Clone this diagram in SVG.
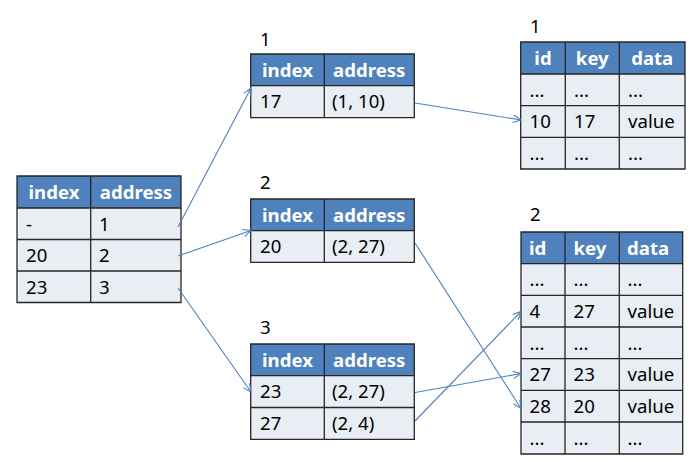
<svg xmlns="http://www.w3.org/2000/svg" width="693" height="462" viewBox="0 0 693 462">
<style>
.hd{fill:#4F81BD}
.rw{fill:#E9EDF4}
.ln{stroke:#262626;stroke-width:1.3;fill:none}
text{font-family:"Noto Sans","DejaVu Sans",sans-serif;font-size:18.6px;fill:#000}
.ht{fill:#fff;font-weight:bold}
.c{text-anchor:middle}
.lbl{font-size:18.6px}
.cn{stroke:#4F81BD;stroke-width:1.1;fill:none;marker-end:url(#ah)}
</style>
<defs>
<marker id="ah" viewBox="0 0 10 10" refX="9" refY="5" markerWidth="10" markerHeight="10" markerUnits="userSpaceOnUse" orient="auto">
<path d="M1,1.2 L9,5 L1,8.8" fill="none" stroke="#4F81BD" stroke-width="1.1"/>
</marker>
</defs>

<g id="root-index">
<rect class="hd" x="17" y="176" width="164" height="32"/>
<rect class="rw" x="17" y="208" width="164" height="94.5"/>
<path class="ln" d="M17,176H181V302.5H17Z M17,208H181 M17,239.5H181 M17,271H181 M90.7,176V302.5"/>
<text class="ht c" x="54" y="198.5">index</text>
<text class="ht c" x="136" y="198.5">address</text>
<text x="26" y="230.5">-</text><text x="99" y="230.5">1</text>
<text x="26" y="262">20</text><text x="99" y="262">2</text>
<text x="26" y="293.5">23</text><text x="99" y="293.5">3</text>
</g>

<g id="index-1">
<text class="lbl" x="260" y="46">1</text>
<rect class="hd" x="250.7" y="54" width="163.6" height="31.7"/>
<rect class="rw" x="250.7" y="85.7" width="163.6" height="32"/>
<path class="ln" d="M250.7,54H414.3V117.7H250.7Z M250.7,85.7H414.3 M324.3,54V117.7"/>
<text class="ht c" x="287.5" y="76.5">index</text>
<text class="ht c" x="369.3" y="76.5">address</text>
<text x="260" y="108">17</text><text x="332" y="108">(1, 10)</text>
</g>

<g id="index-2">
<text class="lbl" x="260" y="189">2</text>
<rect class="hd" x="250.7" y="199" width="163.6" height="31.7"/>
<rect class="rw" x="250.7" y="230.7" width="163.6" height="31.7"/>
<path class="ln" d="M250.7,199H414.3V262.4H250.7Z M250.7,230.7H414.3 M324.3,199V262.4"/>
<text class="ht c" x="287.5" y="221.5">index</text>
<text class="ht c" x="369.3" y="221.5">address</text>
<text x="260" y="253">20</text><text x="332" y="253">(2, 27)</text>
</g>

<g id="index-3">
<text class="lbl" x="260" y="334">3</text>
<rect class="hd" x="250.7" y="344" width="163.6" height="31.7"/>
<rect class="rw" x="250.7" y="375.7" width="163.6" height="63.6"/>
<path class="ln" d="M250.7,344H414.3V439.3H250.7Z M250.7,375.7H414.3 M250.7,407.5H414.3 M324.3,344V439.3"/>
<text class="ht c" x="287.5" y="366.5">index</text>
<text class="ht c" x="369.3" y="366.5">address</text>
<text x="260" y="398">23</text><text x="332" y="398">(2, 27)</text>
<text x="260" y="430">27</text><text x="332" y="430">(2, 4)</text>
</g>

<g id="data-1">
<text class="lbl" x="530" y="33">1</text>
<rect class="hd" x="520.7" y="42" width="164.3" height="32"/>
<rect class="rw" x="520.7" y="74" width="164.3" height="95"/>
<path class="ln" d="M520.7,42H685V169H520.7Z M520.7,74H685 M520.7,105.7H685 M520.7,137.3H685 M565.3,42V169 M619.3,42V169"/>
<text class="ht c" x="543" y="64.5">id</text>
<text class="ht c" x="592.3" y="64.5">key</text>
<text class="ht c" x="652.2" y="64.5">data</text>
<text x="529.5" y="96.5">...</text><text x="574" y="96.5">...</text><text x="628" y="96.5">...</text>
<text x="529.5" y="128">10</text><text x="574" y="128">17</text><text x="628" y="128">value</text>
<text x="529.5" y="159.5">...</text><text x="574" y="159.5">...</text><text x="628" y="159.5">...</text>
</g>

<g id="data-2">
<text class="lbl" x="530" y="221">2</text>
<rect class="hd" x="521" y="232" width="161.7" height="31.7"/>
<rect class="rw" x="521" y="263.7" width="161.7" height="190.3"/>
<path class="ln" d="M521,232H682.7V454H521Z M521,263.7H682.7 M521,295.3H682.7 M521,327H682.7 M521,358.7H682.7 M521,390.3H682.7 M521,422H682.7 M565,232V454 M619.3,232V454"/>
<text class="ht" x="529" y="254.5">id</text>
<text class="ht" x="573.5" y="254.5">key</text>
<text class="ht" x="627" y="254.5">data</text>
<text x="529.5" y="286">...</text><text x="573.5" y="286">...</text><text x="627.5" y="286">...</text>
<text x="529.5" y="317.5">4</text><text x="573.5" y="317.5">27</text><text x="627.5" y="317.5">value</text>
<text x="529.5" y="349.5">...</text><text x="573.5" y="349.5">...</text><text x="627.5" y="349.5">...</text>
<text x="529.5" y="381">27</text><text x="573.5" y="381">23</text><text x="627.5" y="381">value</text>
<text x="529.5" y="412.5">28</text><text x="573.5" y="412.5">20</text><text x="627.5" y="412.5">value</text>
<text x="529.5" y="444.5">...</text><text x="573.5" y="444.5">...</text><text x="627.5" y="444.5">...</text>
</g>

<g id="connectors">
<line class="cn" x1="178" y1="227" x2="251" y2="88"/>
<line class="cn" x1="178" y1="256" x2="251" y2="230.5"/>
<line class="cn" x1="178" y1="288" x2="251" y2="392"/>
<line class="cn" x1="415" y1="103" x2="521" y2="120"/>
<line class="cn" x1="415" y1="243" x2="521" y2="408.5"/>
<line class="cn" x1="415" y1="392.5" x2="521" y2="373.5"/>
<line class="cn" x1="415" y1="421" x2="521" y2="311.5"/>
</g>
</svg>
